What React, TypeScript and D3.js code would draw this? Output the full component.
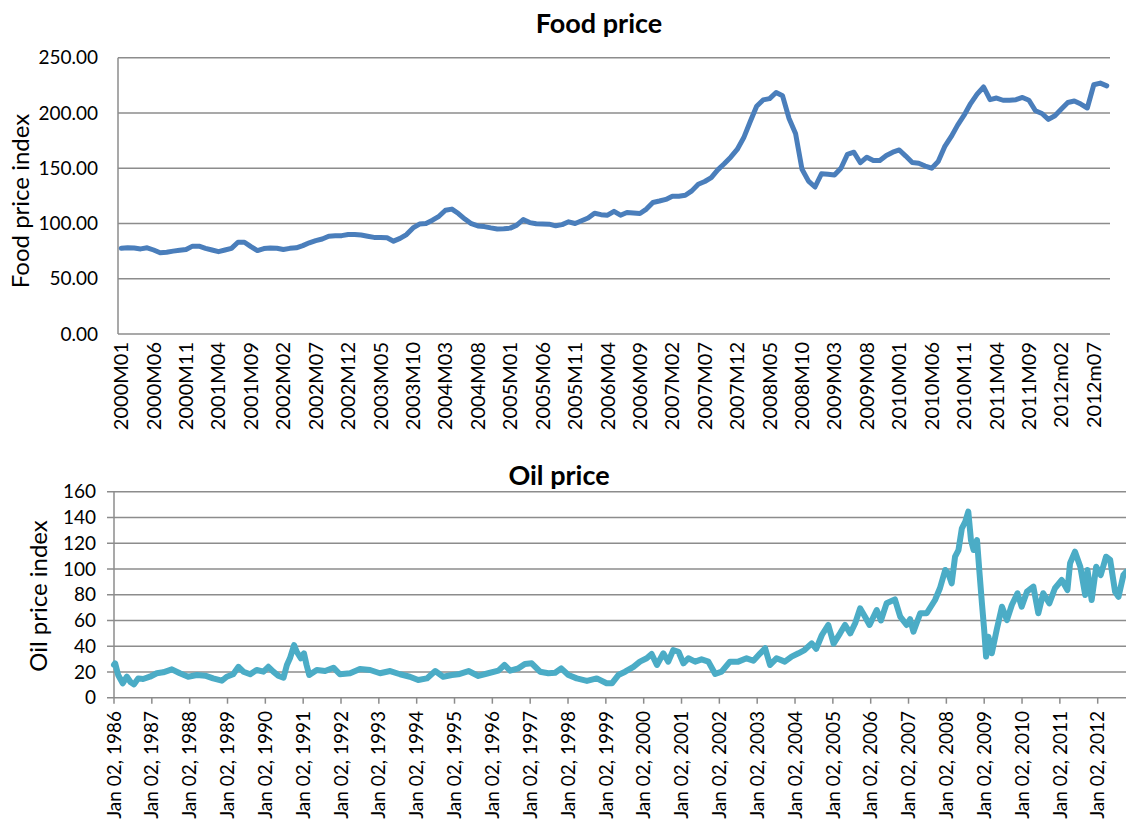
import React from "react";
import * as d3 from "d3";

// food price index, monthly 2000M01 .. 2012m09
const foodValues = [
  77.5, 78, 77.8, 77, 78, 76, 73.5, 74, 75, 75.8, 76.5, 79.5, 79.5, 77.5, 76, 74.5, 76, 77.5, 83, 83,
  79, 75.5, 77.3, 77.8, 77.6, 76.5, 77.5, 78, 80, 82.5, 84.5, 86, 88.5, 88.8, 89, 90, 90, 89.5, 88.5, 87.4,
  87.4, 87, 84, 86.5, 90, 96, 99.5, 100, 103, 106.5, 112, 113, 109, 104, 99.8, 97.8, 97.2, 96, 95, 95.2,
  95.8, 98.5, 103.5, 100.8, 99.7, 99.6, 99.4, 97.9, 99, 101.5, 100, 102.5, 105, 109.3, 108, 107.5, 111, 107.5, 110, 109.5,
  109, 113, 119, 120.3, 121.8, 124.7, 124.7, 125.5, 129.5, 135.5, 138, 141.5, 148.5, 154, 160, 167, 177.5, 192, 206, 211.8,
  213, 218.5, 215.5, 195, 181.5, 149, 138.3, 133, 145, 144.5, 143.8, 150, 162.5, 164.5, 155, 160, 157, 157, 161.5, 164.5,
  166.5, 161, 155.2, 154.5, 152, 150, 156, 169.5, 178.5, 189, 198, 208.5, 217, 223.5, 212, 213.5, 211.5, 211.5, 212, 214,
  211.5, 202, 199.5, 194.2, 197.5, 203.5, 209.5, 210.8, 208, 204.5, 225.5, 227, 224.5
];
const foodYears = [2000, 2001, 2002, 2003, 2004, 2005, 2006, 2007, 2008, 2009, 2010, 2011, 2012];
const foodYTicks = [0, 50, 100, 150, 200, 250];

// oil price index (decimal year, value)
const oilYears = [
  1986.0, 1986.03, 1986.11, 1986.23, 1986.34, 1986.44, 1986.53, 1986.64, 1986.77, 1986.95,
  1987.13, 1987.3, 1987.53, 1987.74, 1987.96, 1988.19, 1988.41, 1988.62, 1988.85, 1988.98,
  1989.15, 1989.29, 1989.42, 1989.6, 1989.77, 1989.95, 1990.08, 1990.21, 1990.34, 1990.48,
  1990.57, 1990.65, 1990.76, 1990.83, 1990.94, 1991.02, 1991.09, 1991.16, 1991.36, 1991.58,
  1991.8, 1991.97, 1992.24, 1992.5, 1992.77, 1993.03, 1993.3, 1993.56, 1993.82, 1994.04,
  1994.27, 1994.49, 1994.7, 1994.93, 1995.1, 1995.37, 1995.63, 1995.89, 1996.16, 1996.32,
  1996.47, 1996.69, 1996.86, 1997.04, 1997.26, 1997.48, 1997.66, 1997.82, 1998.01, 1998.23,
  1998.5, 1998.76, 1999.02, 1999.16, 1999.33, 1999.51, 1999.73, 1999.9, 2000.08, 2000.21,
  2000.35, 2000.52, 2000.65, 2000.78, 2000.92, 2001.05, 2001.18, 2001.36, 2001.53, 2001.71,
  2001.89, 2002.06, 2002.28, 2002.5, 2002.72, 2002.9, 2003.08, 2003.21, 2003.34, 2003.51,
  2003.73, 2003.91, 2004.09, 2004.25, 2004.44, 2004.56, 2004.71, 2004.88, 2005.02, 2005.19,
  2005.32, 2005.46, 2005.59, 2005.72, 2005.85, 2005.97, 2006.16, 2006.27, 2006.42, 2006.64,
  2006.78, 2006.95, 2007.04, 2007.13, 2007.31, 2007.48, 2007.7, 2007.83, 2007.97, 2008.05,
  2008.14, 2008.23, 2008.32, 2008.41, 2008.5, 2008.58, 2008.65, 2008.72, 2008.81, 2008.87,
  2008.94, 2009.0, 2009.05, 2009.11, 2009.2, 2009.33, 2009.47, 2009.6, 2009.73, 2009.88,
  2009.99, 2010.13, 2010.3, 2010.43, 2010.56, 2010.72, 2010.87, 2011.05, 2011.2, 2011.27,
  2011.4, 2011.54, 2011.67, 2011.73, 2011.84, 2011.96, 2012.08, 2012.22, 2012.33, 2012.46,
  2012.55, 2012.68, 2012.76
];
const oilValues = [
  25.5, 26.7, 17.6, 11.2, 16.3, 12, 10.4, 15, 14.5, 16.3,
  19, 19.7, 22, 19, 16.3, 17.6, 17.1, 15, 13.2, 16.3,
  18.2, 24, 20.2, 18.2, 21.5, 20.2, 24, 20.2, 17.1, 15.5,
  25.4, 30.6, 40.9, 35.7, 30.6, 34.5, 25.4, 17.6, 21.5, 20.7,
  23.3, 18.2, 19, 22.3, 21.5, 19, 20.7, 18.2, 16.3, 13.7,
  15, 20.7, 16.3, 17.6, 18.2, 20.7, 16.9, 19, 21, 25.4,
  21, 22.8, 26.2, 26.7, 20.2, 19, 19.4, 22.8, 17.6, 15,
  13, 15, 11.2, 11.2, 17.6, 20.2, 24, 28, 30.6, 33.9,
  25.4, 34.5, 28, 37, 35.7, 26.7, 30.6, 28, 29.8, 28,
  18.4, 20.2, 28, 28, 30.6, 28.7, 34.5, 38.4, 25.4, 30.6,
  28, 31.9, 34.5, 37, 42.2, 38, 48.7, 56.5, 42, 50,
  56.5, 50, 57.8, 69.4, 62.9, 56.5, 68.1, 60, 73.3, 76.4,
  62.9, 56.5, 61, 51.3, 65.6, 65.6, 75.9, 85, 99.2, 96.6,
  88.8, 109.5, 114.7, 131.6, 136.7, 144.5, 122.5, 114.7, 122.5, 99.2,
  73.3, 52.6, 31.9, 47.4, 34.5, 52.6, 70.7, 60.3, 72, 81.1,
  70.7, 82.3, 86.2, 65.6, 81.1, 73.3, 85, 91.4, 83.6, 104.4,
  113.4, 101.7, 79.8, 99.2, 75.9, 101.7, 95.3, 109.5, 107, 82.3,
  78.4, 95.3, 98
];
const oilTickYears = d3.range(1986, 2013);
const oilYTicks = [0, 20, 40, 60, 80, 100, 120, 140, 160];

const FONT = "Lato, 'Open Sans', sans-serif";
const GRID = "#8c8c8c";

function monthLabel(y: number, m: number) {
  const mm = m < 10 ? "0" + m : "" + m;
  return y + (y === 2012 ? "m" : "M") + mm;
}

export default function App() {
  // food categories 2000M01 .. 2012m09
  const foodCats: string[] = [];
  foodYears.forEach((y) => {
    for (let m = 1; m <= 12; m++) foodCats.push(monthLabel(y, m));
  });
  const cats = foodCats.slice(0, foodValues.length);

  const fLeft = 118, fRight = 1110, fTop = 57.7, fBottom = 334;
  const fx = d3.scaleBand().domain(cats).range([fLeft, fRight]);
  const fy = d3.scaleLinear().domain([0, 250]).range([fBottom, fTop]);
  const foodLine = d3
    .line<number>()
    .x((d, i) => (fx(cats[i]) as number) + fx.bandwidth() / 2)
    .y((d) => fy(d));

  const oLeft = 114, oRight = 1127, oTop = 491.7, oBottom = 697.7;
  const ox = d3.scaleLinear().domain([1986, 2012]).range([oLeft, 1097.7]);
  const oy = d3.scaleLinear().domain([0, 160]).range([oBottom, oTop]);
  const oilLine = d3
    .line<number>()
    .x((d, i) => ox(oilYears[i]))
    .y((d) => oy(d));

  return (
    <svg
      width={1126}
      height={820}
      style={{ position: "absolute", left: 0, top: 0, background: "#fff" }}
      fontFamily={FONT}
    >
      {/* Food price */}
      <text x={599} y={33} textAnchor="middle" fontSize={27} fontWeight="bold">
        Food price
      </text>
      <text transform={`translate(21,201) rotate(-90)`} textAnchor="middle" dy="0.35em" fontSize={24}>
        Food price index
      </text>
      {foodYTicks.map((t) => (
        <g key={t}>
          <line x1={fLeft} x2={fRight} y1={fy(t)} y2={fy(t)} stroke={GRID} strokeWidth={1.5} />
          <text x={98} y={fy(t)} dy="0.35em" textAnchor="end" fontSize={19}>
            {t.toFixed(2)}
          </text>
        </g>
      ))}
      <line x1={fLeft} x2={fLeft} y1={fTop} y2={fBottom} stroke={GRID} strokeWidth={1.5} />
      {cats.map((c, i) =>
        i % 5 === 0 ? (
          <text
            key={c}
            transform={`translate(${(fx(c) as number) + fx.bandwidth() / 2},342) rotate(-90)`}
            textAnchor="end"
            dy="0.35em"
            fontSize={20}
          >
            {c}
          </text>
        ) : null
      )}
      <path
        d={foodLine(foodValues) || ""}
        fill="none"
        stroke="#4a7ebb"
        strokeWidth={5}
        strokeLinejoin="round"
        strokeLinecap="round"
      />

      {/* Oil price */}
      <text x={559} y={485} textAnchor="middle" fontSize={27} fontWeight="bold">
        Oil price
      </text>
      <text transform={`translate(39,596) rotate(-90)`} textAnchor="middle" dy="0.35em" fontSize={24}>
        Oil price index
      </text>
      {oilYTicks.map((t) => (
        <g key={t}>
          <line x1={oLeft - 7} x2={oRight} y1={oy(t)} y2={oy(t)} stroke={GRID} strokeWidth={1.5} />
          <text x={96} y={oy(t)} dy="0.35em" textAnchor="end" fontSize={19}>
            {t}
          </text>
        </g>
      ))}
      <line x1={oLeft} x2={oLeft} y1={oTop} y2={oBottom} stroke={GRID} strokeWidth={1.5} />
      {oilTickYears.map((y) => (
        <g key={y}>
          <line x1={ox(y)} x2={ox(y)} y1={oBottom} y2={oBottom + 6} stroke={GRID} strokeWidth={1.5} />
          <text
            transform={`translate(${ox(y)},711) rotate(-90)`}
            textAnchor="end"
            dy="0.35em"
            fontSize={19}
          >
            {"Jan 02, " + y}
          </text>
        </g>
      ))}
      <path
        d={oilLine(oilValues) || ""}
        fill="none"
        stroke="#4bacc6"
        strokeWidth={6}
        strokeLinejoin="round"
        strokeLinecap="round"
      />
    </svg>
  );
}
